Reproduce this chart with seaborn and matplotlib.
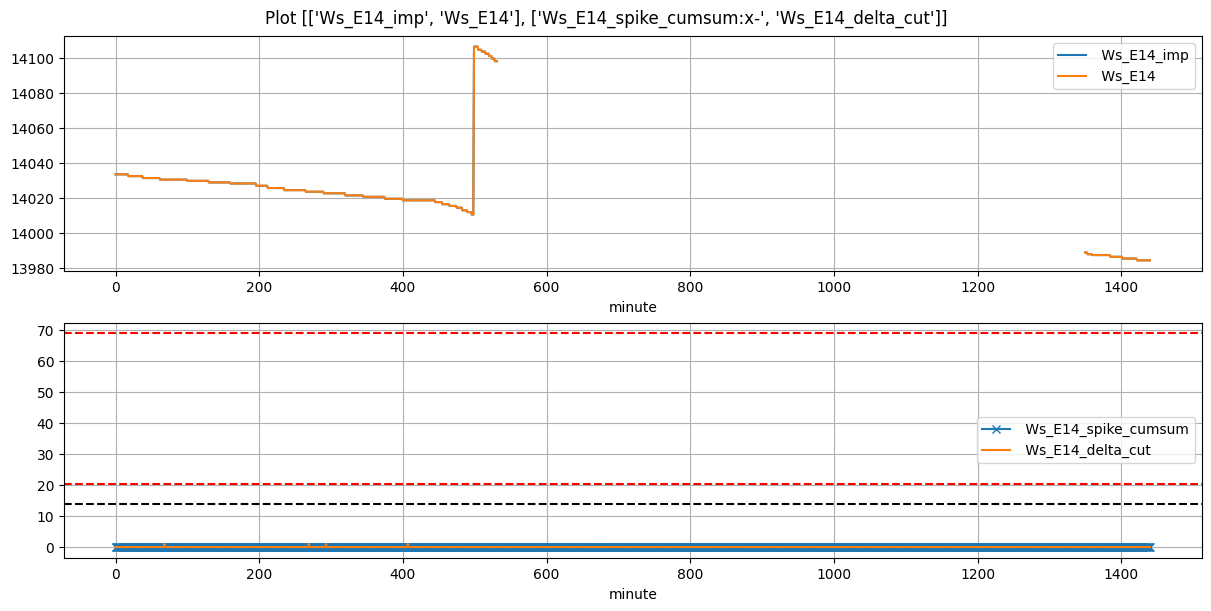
import numpy as np
import pandas as pd
import matplotlib
matplotlib.use("Agg")
import matplotlib.pyplot as plt
import seaborn as sns

# minute-of-day axis
minutes = np.arange(0, 1441)

# Ws_E14 as a step table (start minute -> value), nan = missing
step_start = [0, 18, 38, 62, 100, 130, 160, 196, 212, 235, 265, 290, 320, 345,
              375, 400, 445, 455, 465, 475, 483, 490, 496, 499, 505, 510, 515,
              520, 524, 528, 532, 1350, 1353, 1360, 1385, 1402, 1422]
step_value = [14033.5, 14032.5, 14031.4, 14030.5, 14029.8, 14028.9, 14028.3,
              14027.0, 14025.7, 14024.5, 14023.6, 14022.7, 14021.5, 14020.7,
              14019.6, 14018.7, 14017.7, 14016.5, 14015.5, 14014.5, 14013.0,
              14012.0, 14010.5, 14106.3, 14104.5, 14103.5, 14102.3, 14101.0,
              14099.5, 14098.0, np.nan, 13989.0, 13988.0, 13987.5, 13986.5,
              13985.5, 13984.5]

# delta_cut spikes (otherwise 0)
spike_minutes = [68, 269, 293, 407]
spike_values = [1.0, 1.0, 1.0, 1.0]
cumsum_level = 0.0

# threshold lines
red_levels = [69.0, 20.5]
black_levels = [14.0]


def main():
    lengths = np.diff(step_start + [len(minutes)])
    ws = np.repeat(step_value, lengths)
    delta_cut = np.zeros(len(minutes))
    delta_cut[spike_minutes] = spike_values

    df = pd.DataFrame({
        'minute': minutes,
        'Ws_E14_imp': ws,
        'Ws_E14': ws,
        'Ws_E14_spike_cumsum': np.full(len(minutes), cumsum_level),
        'Ws_E14_delta_cut': delta_cut,
    })
    # contiguous non-missing chunks so lines break at the gap
    df['seg'] = df['Ws_E14'].isna().cumsum()

    fig, axes = plt.subplots(2, 1, figsize=(12, 6), dpi=100, layout='constrained')
    fig.suptitle("Plot [['Ws_E14_imp', 'Ws_E14'], ['Ws_E14_spike_cumsum:x-', 'Ws_E14_delta_cut']]")

    ax = axes[0]
    for col, color in [('Ws_E14_imp', 'C0'), ('Ws_E14', 'C1')]:
        first = True
        for _, part in df.dropna(subset=[col]).groupby('seg'):
            sns.lineplot(x='minute', y=col, data=part, ax=ax, color=color,
                         estimator=None, sort=False, linewidth=1.5,
                         label=' ' + col if first else '_nolegend_', legend=False)
            first = False
    ax.grid(True)
    ax.set_xlabel('minute')
    ax.set_ylabel('')
    ax.legend(loc='upper right')

    ax = axes[1]
    sns.lineplot(x='minute', y='Ws_E14_spike_cumsum', data=df, ax=ax, color='C0',
                 marker='x', markeredgecolor='C0', markeredgewidth=1.0, markersize=6,
                 estimator=None, sort=False, label=' Ws_E14_spike_cumsum', legend=False)
    sns.lineplot(x='minute', y='Ws_E14_delta_cut', data=df, ax=ax, color='C1',
                 estimator=None, sort=False, label=' Ws_E14_delta_cut', legend=False)
    for lvl in red_levels:
        ax.axhline(lvl, color='red', linestyle='--')
    for lvl in black_levels:
        ax.axhline(lvl, color='black', linestyle='--')
    ax.grid(True)
    ax.set_xlabel('minute')
    ax.set_ylabel('')
    ax.legend(loc='center right')

    plt.savefig('out.png', bbox_inches='tight')
    plt.close()


if __name__ == "__main__":
    main()
